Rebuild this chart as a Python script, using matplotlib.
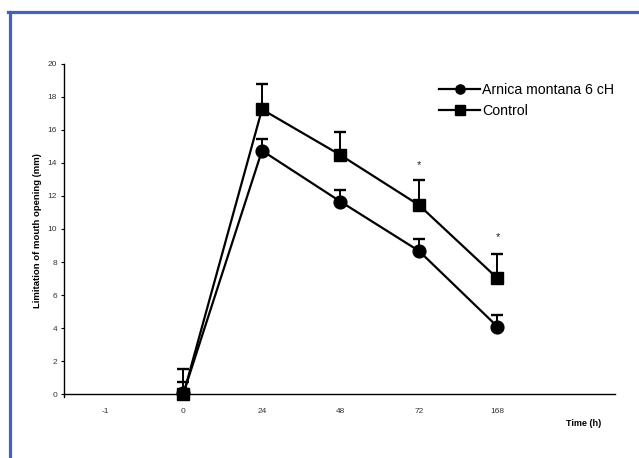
import matplotlib
matplotlib.use("Agg")
import matplotlib.pyplot as plt
from matplotlib.lines import Line2D
import numpy as np

plt.rcParams["font.family"] = ["Liberation Sans", "DejaVu Sans"]

# categories on the x axis (the first one carries no data)
time_labels = ["-1", "0", "24", "48", "72", "168"]
data_idx = [1, 2, 3, 4, 5]

# mean limitation of mouth opening (mm) and upper end of the error bar
arnica_mean = [0.05, 14.75, 11.66, 8.67, 4.08]
arnica_top = [0.73, 15.45, 12.36, 9.41, 4.79]
control_mean = [0.0, 17.25, 14.48, 11.45, 7.01]
control_top = [1.53, 18.8, 15.88, 12.97, 8.48]

# significance marks (category index, y)
star_idx = [4, 5]
star_y = [13.9, 9.5]

fig = plt.figure(figsize=(6.39, 4.58), dpi=100)
ax = fig.add_axes([0.1002, 0.1325, 0.8622, 0.7278])

# upper-only error bars: stem plus a cap at the top
for mean, top in [(control_mean, control_top), (arnica_mean, arnica_top)]:
    ax.vlines(data_idx, mean, top, color="k", lw=1.4, zorder=2)
    ax.plot(data_idx, top, ls="none", marker="_", ms=8.8, mew=1.7,
            color="k", zorder=2, clip_on=False)

ax.plot(data_idx, arnica_mean, color="k", lw=1.6, marker="o", ms=9.2,
        label="Arnica montana 6 cH", zorder=4, clip_on=False)
ax.plot(data_idx, control_mean, color="k", lw=1.6, marker="s", ms=9.2,
        label="Control", zorder=4, clip_on=False)

for i, y in zip(star_idx, star_y):
    ax.text(i, y, "*", fontsize=8, ha="center", va="center", color="#222222")

ax.set_xlim(-0.522, 6.497)
ax.set_ylim(-0.2, 20)
ax.set_xticks(range(len(time_labels)))
ax.set_xticklabels(time_labels)
ax.set_yticks(np.arange(0, 21, 2))

ax.spines["top"].set_visible(False)
ax.spines["right"].set_visible(False)
ax.spines["bottom"].set_position(("data", 0))
for s in ["left", "bottom"]:
    ax.spines[s].set_linewidth(1.0)

ax.tick_params(axis="y", direction="out", length=2.5, width=0.8, pad=2.5,
               labelsize=6, labelcolor="#333333")
ax.tick_params(axis="x", length=0, pad=10, labelsize=6, labelcolor="#333333")

ax.set_ylabel("Limitation of mouth opening (mm)", fontsize=6.8, fontweight="bold",
              labelpad=4)
fig.text(584 / 639, 1 - 424 / 458, "Time (h)", fontsize=6.5, fontweight="bold",
         ha="center", va="center")

ax.legend(loc="upper left", bbox_to_anchor=(439 / 639, 1 - 83 / 458),
          bbox_transform=fig.transFigure, frameon=False, fontsize=10.2,
          handlelength=2.9, handletextpad=0.15, borderpad=0, borderaxespad=0,
          labelspacing=0.5, markerscale=0.72)

# blue frame on the top and left edge
border = "#4662B4"
fig.add_artist(Line2D([9.5 / 639, 9.5 / 639], [0, 1 - 11.5 / 458],
                      transform=fig.transFigure, color=border, lw=2.3))
fig.add_artist(Line2D([8.4 / 639, 1], [1 - 11.5 / 458, 1 - 11.5 / 458],
                      transform=fig.transFigure, color=border, lw=2.3))

fig.savefig("out.png", dpi=100)
